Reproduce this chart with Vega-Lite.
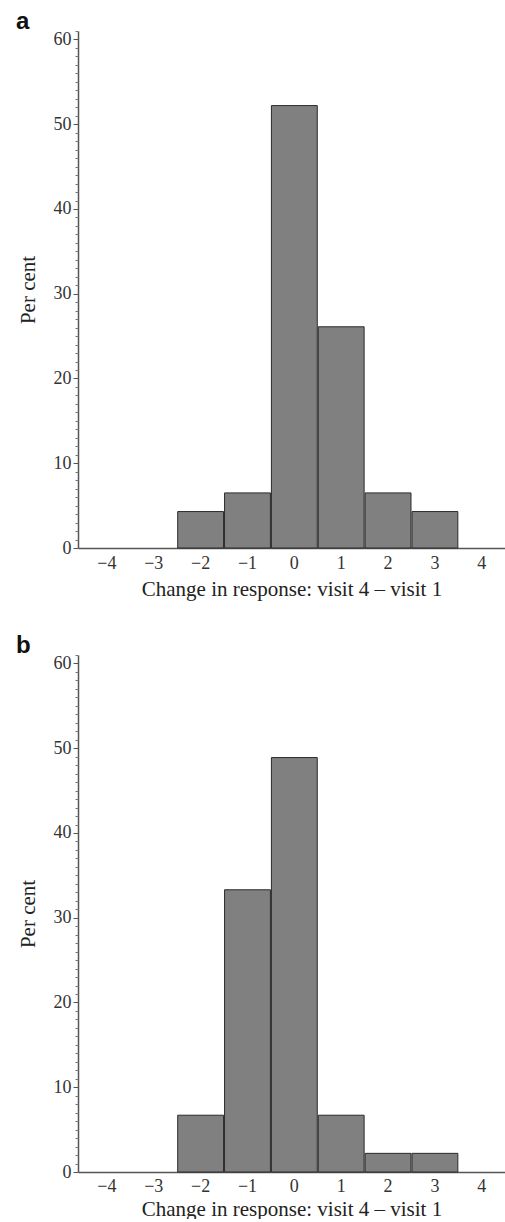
{
  "$schema": "https://vega.github.io/schema/vega-lite/v6.json",
  "autosize": "pad",
  "padding": {"left": 16, "top": 10, "right": 0, "bottom": 0},
  "background": "white",
  "datasets": {
    "a": [
      {"change": -2, "bin_start": -2.5, "bin_end": -1.5, "percent": 4.3},
      {"change": -1, "bin_start": -1.5, "bin_end": -0.5, "percent": 6.5},
      {"change": 0, "bin_start": -0.5, "bin_end": 0.5, "percent": 52.2},
      {"change": 1, "bin_start": 0.5, "bin_end": 1.5, "percent": 26.1},
      {"change": 2, "bin_start": 1.5, "bin_end": 2.5, "percent": 6.5},
      {"change": 3, "bin_start": 2.5, "bin_end": 3.5, "percent": 4.3}
    ],
    "b": [
      {"change": -2, "bin_start": -2.5, "bin_end": -1.5, "percent": 6.7},
      {"change": -1, "bin_start": -1.5, "bin_end": -0.5, "percent": 33.3},
      {"change": 0, "bin_start": -0.5, "bin_end": 0.5, "percent": 48.9},
      {"change": 1, "bin_start": 0.5, "bin_end": 1.5, "percent": 6.7},
      {"change": 2, "bin_start": 1.5, "bin_end": 2.5, "percent": 2.2},
      {"change": 3, "bin_start": 2.5, "bin_end": 3.5, "percent": 2.2}
    ]
  },
  "config": {
    "view": {"stroke": null},
    "font": "Liberation Serif",
    "axis": {
      "labelFont": "Liberation Serif",
      "titleFont": "Liberation Serif",
      "labelFontSize": 18,
      "titleFontSize": 21,
      "titleFontWeight": "normal",
      "labelColor": "#333",
      "titleColor": "#222",
      "domainColor": "#555",
      "domainWidth": 1.5,
      "tickColor": "#555",
      "grid": false
    },
    "title": {
      "font": "Liberation Sans",
      "fontSize": 24,
      "fontWeight": "bold",
      "anchor": "start",
      "frame": "group",
      "color": "#111"
    },
    "concat": {"spacing": 35}
  },
  "vconcat": [
    {
      "title": {"text": "a", "dx": -62, "offset": -4},
      "width": 427,
      "height": 517,
      "data": {"name": "a"},
      "layer": [
        {
          "mark": {"type": "bar", "color": "#808080", "stroke": "#2a2a2a", "strokeWidth": 1},
          "encoding": {
            "x": {
              "field": "bin_start", "type": "quantitative", "bin": {"binned": true},
              "scale": {"domain": [-4.5, 4.4], "nice": false, "zero": false},
              "axis": {"values": [-4, -3, -2, -1, 0, 1, 2, 3, 4], "ticks": false, "labelPadding": 6, "title": "Change in response: visit 4 \u2013 visit 1", "titlePadding": 6, "format": "d"}
            },
            "x2": {"field": "bin_end"},
            "y": {
              "field": "percent", "type": "quantitative",
              "scale": {"domain": [0, 61], "nice": false},
              "axis": {"values": [0, 10, 20, 30, 40, 50, 60], "tickSize": 5, "labelPadding": 2, "title": "Per cent", "titlePadding": 15}
            }
          }
        },
        {
          "mark": {"type": "bar", "opacity": 0},
          "encoding": {
            "x": {"field": "bin_start", "type": "quantitative"},
            "y": {
              "field": "percent", "type": "quantitative",
              "axis": {"orient": "left", "values": [1,2,3,4,5,6,7,8,9,11,12,13,14,15,16,17,18,19,21,22,23,24,25,26,27,28,29,31,32,33,34,35,36,37,38,39,41,42,43,44,45,46,47,48,49,51,52,53,54,55,56,57,58,59,61], "tickSize": 3, "labels": false, "domain": false, "title": null, "tickWidth": 1, "tickColor": "#777"}
            }
          }
        }
      ],
      "resolve": {"axis": {"y": "independent"}}
    },
    {
      "title": {"text": "b", "dx": -62, "offset": -4},
      "width": 427,
      "height": 517,
      "data": {"name": "b"},
      "layer": [
        {
          "mark": {"type": "bar", "color": "#808080", "stroke": "#2a2a2a", "strokeWidth": 1},
          "encoding": {
            "x": {
              "field": "bin_start", "type": "quantitative", "bin": {"binned": true},
              "scale": {"domain": [-4.5, 4.4], "nice": false, "zero": false},
              "axis": {"values": [-4, -3, -2, -1, 0, 1, 2, 3, 4], "ticks": false, "labelPadding": 5, "title": "Change in response: visit 4 \u2013 visit 1", "titlePadding": 3, "format": "d"}
            },
            "x2": {"field": "bin_end"},
            "y": {
              "field": "percent", "type": "quantitative",
              "scale": {"domain": [0, 61], "nice": false},
              "axis": {"values": [0, 10, 20, 30, 40, 50, 60], "tickSize": 5, "labelPadding": 2, "title": "Per cent", "titlePadding": 15}
            }
          }
        },
        {
          "mark": {"type": "bar", "opacity": 0},
          "encoding": {
            "x": {"field": "bin_start", "type": "quantitative"},
            "y": {
              "field": "percent", "type": "quantitative",
              "axis": {"orient": "left", "values": [1,2,3,4,5,6,7,8,9,11,12,13,14,15,16,17,18,19,21,22,23,24,25,26,27,28,29,31,32,33,34,35,36,37,38,39,41,42,43,44,45,46,47,48,49,51,52,53,54,55,56,57,58,59,61], "tickSize": 3, "labels": false, "domain": false, "title": null, "tickWidth": 1, "tickColor": "#777"}
            }
          }
        }
      ],
      "resolve": {"axis": {"y": "independent"}}
    }
  ]
}
